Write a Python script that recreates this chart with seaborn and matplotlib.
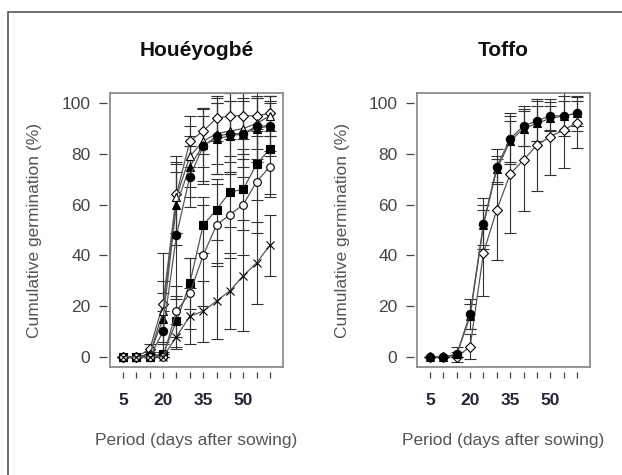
import pandas as pd
import seaborn as sns
import matplotlib.pyplot as plt
from matplotlib.patches import Rectangle

days = [5, 10, 15, 20, 25, 30, 35, 40, 45, 50, 55, 60]
tick_labels = ["5", "", "", "20", "", "", "35", "", "", "50", "", ""]

# Houéyogbé: mean cumulative germination (%) and SD per seed lot
hou_open_diamond = [0, 0, 3, 21, 64, 85, 89, 94, 95, 95, 95, 96]
hou_open_triangle = [0, 0, 1, 18, 63, 79, 85, 88, 89, 90, 92, 95]
hou_filled_triangle = [0, 0, 1, 15, 60, 75, 83.5, 86, 87, 88, 90, 91]
hou_filled_circle = [0, 0, 0, 10, 48, 71, 83, 87, 88, 88, 91, 91]
hou_filled_square = [0, 0, 0, 1, 14, 29, 52, 58, 65, 66, 76, 82]
hou_open_circle = [0, 0, 0, 0, 18, 25, 40, 52, 56, 60, 69, 75]
hou_cross = [0, 0, 0, 0, 8, 16, 18, 22, 26, 32, 37, 44]

hou_sd_open_diamond = [0, 0, 2, 20, 15, 10, 9, 9, 9, 9, 8, 7]
hou_sd_open_triangle = [0, 0, 1, 12, 14, 12, 10, 12, 12, 12, 10, 8]
hou_sd_filled_triangle = [0, 0, 1, 10, 16, 12, 14, 14, 14, 13, 12, 10]
hou_sd_filled_circle = [0, 0, 0, 8, 25, 12, 15, 15, 16, 17, 14, 12]
hou_sd_filled_square = [0, 0, 0, 1, 10, 10, 11, 12, 14, 16, 14, 18]
hou_sd_open_circle = [0, 0, 0, 0, 10, 14, 20, 16, 17, 20, 20, 12]
hou_sd_cross = [0, 0, 0, 0, 5, 11, 12, 15, 15, 22, 16, 12]

# Toffo
tof_filled_circle = [0, 0, 1, 17, 52.5, 75, 86, 91, 93, 95, 95, 96]
tof_filled_triangle = [0, 0, 1, 16, 52, 74, 85, 90, 92, 94, 95, 96]
tof_open_diamond = [0, 0, 0, 4, 41, 58, 72, 77.6, 83.5, 86.8, 89.4, 92.3]

tof_sd_filled_circle = [0, 0, 1, 6, 10, 7, 10, 8, 8, 5.5, 8, 7]
tof_sd_filled_triangle = [0, 0, 3, 5, 8, 5, 8, 7, 7, 5, 6, 5]
tof_sd_open_diamond = [0, 0, 0, 5, 17, 20, 23, 20, 18, 15, 15, 10]

# (mean, sd, marker, face colour, size)
panels = {
    "Houéyogbé": [
        (hou_open_diamond, hou_sd_open_diamond, "D", "white", 5),
        (hou_open_triangle, hou_sd_open_triangle, "^", "white", 6),
        (hou_filled_triangle, hou_sd_filled_triangle, "^", "black", 6),
        (hou_filled_circle, hou_sd_filled_circle, "o", "black", 6),
        (hou_filled_square, hou_sd_filled_square, "s", "black", 5.5),
        (hou_open_circle, hou_sd_open_circle, "o", "white", 5.5),
        (hou_cross, hou_sd_cross, "x", "none", 6),
    ],
    "Toffo": [
        (tof_open_diamond, tof_sd_open_diamond, "D", "white", 5),
        (tof_filled_triangle, tof_sd_filled_triangle, "^", "black", 6),
        (tof_filled_circle, tof_sd_filled_circle, "o", "black", 6),
    ],
}

sns.set_theme(style="white")
plt.rcParams["font.family"] = ["Liberation Sans", "DejaVu Sans"]

fig = plt.figure(figsize=(6.22, 4.75), dpi=100)
fig.patches.append(Rectangle((8 / 622, -0.05), 1.2, 1.05 - 12 / 475, transform=fig.transFigure,
                             fill=False, edgecolor="#555555", linewidth=1.2))

lefts = [110 / 622, 417 / 622]
label_x = [35 / 622, 343 / 622]
for i, (title, series) in enumerate(panels.items()):
    ax = fig.add_axes([lefts[i], 1 - 367 / 475, 173 / 622, 274 / 475])
    for mean, sd, marker, face, size in series:
        ax.errorbar(days, mean, yerr=sd, fmt="none", ecolor="#333333",
                    elinewidth=0.8, capsize=4.5, capthick=0.8, zorder=1)
        sns.lineplot(x=days, y=mean, ax=ax, color="#555555", linewidth=0.9,
                     marker=marker, markersize=size,
                     markerfacecolor=face, markeredgecolor="black",
                     markeredgewidth=0.8, zorder=2)
    ax.set_xlim(0.1, 64.9)
    ax.set_ylim(-4, 104)
    ax.set_xticks([])
    ax.set_yticks([])
    ax.set_xlabel("")
    ax.set_ylabel("")
    for s in ax.spines.values():
        s.set_color("#8c8c8c")
        s.set_linewidth(1.3)

    sx = ax.secondary_xaxis(-0.018)
    sx.set_xticks(days)
    sx.set_xticklabels(tick_labels, fontsize=12.5, fontweight="bold", color="#24243a")
    sx.tick_params(axis="x", length=4.5, width=0.9, color="#444444", pad=11, direction="out")
    sx.spines["bottom"].set_visible(False)

    sy = ax.secondary_yaxis(-0.017)
    sy.set_yticks([0, 20, 40, 60, 80, 100])
    sy.set_yticklabels(["0", "20", "40", "60", "80", "100"], fontsize=12.5, color="#444444")
    sy.tick_params(axis="y", length=6, width=0.9, color="#444444", pad=6, direction="out")
    sy.spines["left"].set_visible(False)

    cx = lefts[i] + 173 / 622 / 2
    fig.text(cx, 1 - 50 / 475, title, ha="center", va="center",
             fontsize=15, fontweight="bold", color="#111111")
    fig.text(cx, 1 - 440 / 475, "Period (days after sowing)", ha="center", va="center",
             fontsize=12.5, color="#555555")
    fig.text(label_x[i], 1 - 230 / 475, "Cumulative germination (%)", ha="center", va="center",
             rotation=90, fontsize=12.5, color="#555555")

fig.savefig("out.png", dpi=100)
plt.close(fig)
